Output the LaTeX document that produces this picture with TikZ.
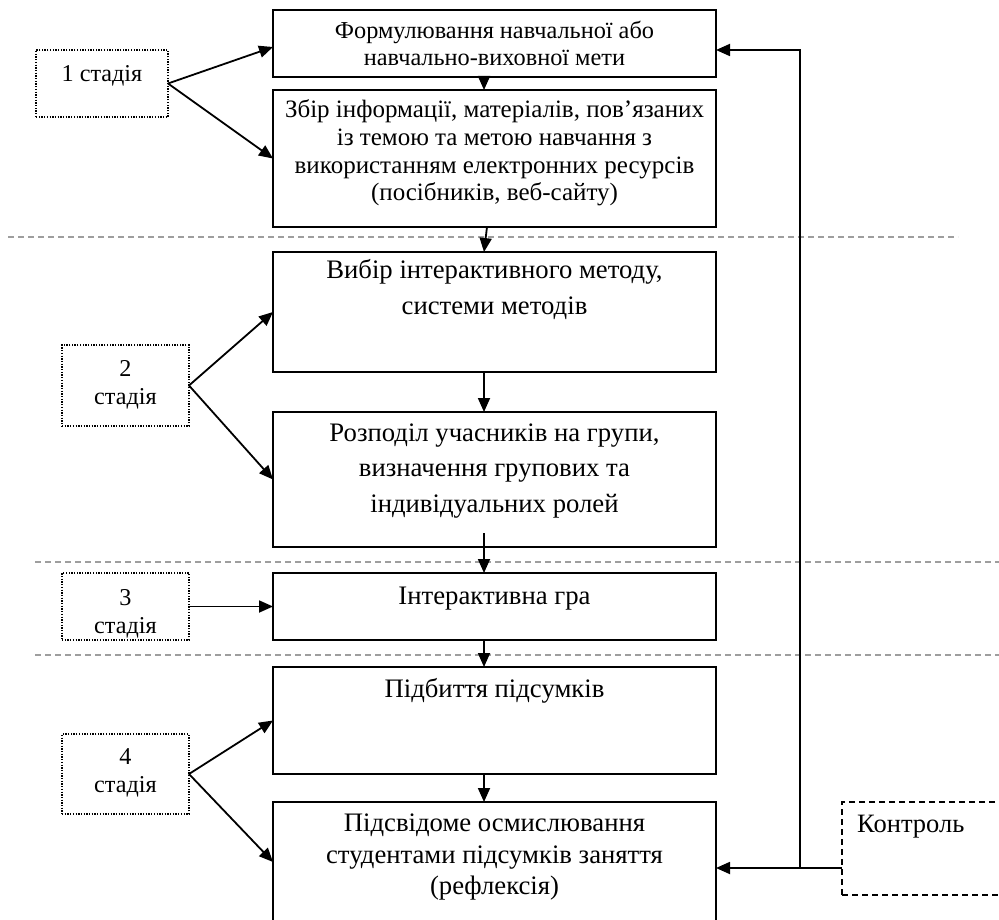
\documentclass[tikz,border=0pt]{standalone}
\usepackage{fontspec}
\setmainfont{Liberation Serif}
\usetikzlibrary{arrows.meta,calc}
\begin{document}
\begin{tikzpicture}[x=1pt,y=-1pt,
  box/.style={draw,line width=1.9pt,inner sep=0pt,outer sep=0pt,minimum width=443pt,anchor=north west},
  stagebox/.style={draw,line width=1.3pt,dash pattern=on 1.3pt off 1.4pt,inner sep=0pt,outer sep=0pt,anchor=north west},
  txt/.style={align=center,inner sep=0pt},
  arr/.style={line width=1.8pt,-{Triangle[length=14pt,width=12pt]}},
  sep/.style={draw=black!38,line width=1.3pt,dash pattern=on 6pt off 4pt}]
\useasboundingbox (0,0) rectangle (999,920);
\clip (0,0) rectangle (999,920);
% separators
\draw[sep] (8,237) -- (958,237);
\draw[sep] (35,562) -- (999,562);
\draw[sep] (35,655) -- (999,655);
% main boxes
\node[box,minimum height=67pt] (b1) at (273,10) {};
\node[box,minimum height=137pt] (b2) at (273,90) {};
\node[box,minimum height=120pt] (b3) at (273,252) {};
\node[box,minimum height=135pt] (b4) at (273,412) {};
\node[box,minimum height=67pt] (b5) at (273,573) {};
\node[box,minimum height=107pt] (b6) at (273,667) {};
\node[box,minimum height=120pt] (b7) at (273,802) {};
% texts
\node[txt,font=\fontsize{24.3}{27}\selectfont] (t1) at (494.5,43.5) {Формулювання навчальної або\\навчально-виховної мети};
\node[txt,font=\fontsize{25}{27.7}\selectfont] (t2) at (494.5,153) {Збір інформації, матеріалів, пов’язаних\\із темою та метою навчання з\\використанням електронних ресурсів\\(посібників, веб-сайту)};
\node[txt,font=\fontsize{26.7}{36}\selectfont] (t3) at (494.5,290) {Вибір інтерактивного методу,\\системи методів};
\node[txt,font=\fontsize{26.7}{35.5}\selectfont] (t4) at (494.5,471) {Розподіл учасників на групи,\\визначення групових та\\індивідуальних ролей};
\node[txt,font=\fontsize{26.7}{30}\selectfont] (t5) at (494.5,599) {Інтерактивна гра};
\node[txt,font=\fontsize{26.7}{30}\selectfont] (t6) at (494.5,691) {Підбиття підсумків};
\node[txt,font=\fontsize{26.7}{31.5}\selectfont] (t7) at (494.5,857) {Підсвідоме осмислювання\\студентами підсумків заняття\\(рефлексія)};
% stage boxes
\node[stagebox,minimum width=132pt,minimum height=67pt] (s1) at (36,50) {};
\node[stagebox,minimum width=127pt,minimum height=81pt] (s2) at (62,345) {};
\node[stagebox,minimum width=127pt,minimum height=67pt] (s3) at (62,573) {};
\node[stagebox,minimum width=127pt,minimum height=80pt] (s4) at (62,734) {};
\node[txt,font=\fontsize{24.2}{28}\selectfont] (st1) at (102,76) {1 стадія};
\node[txt,font=\fontsize{24.2}{28}\selectfont] (st2) at (125.5,385) {2\\стадія};
\node[txt,font=\fontsize{24.2}{28}\selectfont] (st3) at (125.5,614) {3\\стадія};
\node[txt,font=\fontsize{24.2}{28}\selectfont] (st4) at (125.5,773) {4\\стадія};
% control box
\node[draw,line width=1.5pt,dash pattern=on 6pt off 4pt,inner sep=0pt,outer sep=0pt,anchor=north west,minimum width=180pt,minimum height=93pt] (ctrl) at (842,802) {};
\node[txt,font=\fontsize{26.5}{30}\selectfont,anchor=west] (ct) at (857,827) {Контроль};
% vertical flow arrows
\draw[arr] ($(b1.south)+(-10.5,0)$) -- ($(b2.north)+(-10.5,0)$);
\draw[arr] ($(b2.south)+(-7.5,0)$) -- ($(b3.north)+(-10.5,0)$);
\draw[arr] ($(b3.south)+(-10.5,0)$) -- ($(b4.north)+(-10.5,0)$);
\draw[arr] ($(b4.south)+(-10.5,-14)$) -- ($(b5.north)+(-10.5,0)$);
\draw[arr] ($(b5.south)+(-10.5,0)$) -- ($(b6.north)+(-10.5,0)$);
\draw[arr] ($(b6.south)+(-10.5,0)$) -- ($(b7.north)+(-10.5,0)$);
% stage arrows
\draw[arr] (s1.east) -- ($(b1.west)+(0,3.5)$);
\draw[arr] (s1.east) -- (b2.west);
\draw[arr] (s2.east) -- (b3.west);
\draw[arr] (s2.east) -- (b4.west);
\draw[arr] (s3.east) -- (b5.west);
\draw[arr] (s4.east) -- (b6.west);
\draw[arr] (s4.east) -- (b7.west);
% feedback
\coordinate (cin) at (842,868);
\coordinate (j) at (800,868);
\coordinate (fbtop) at (800,50);
\draw[arr] (cin) -- (cin -| b7.east);
\draw[arr] (j) -- (fbtop) -- (fbtop -| b1.east);
\end{tikzpicture}
\end{document}
